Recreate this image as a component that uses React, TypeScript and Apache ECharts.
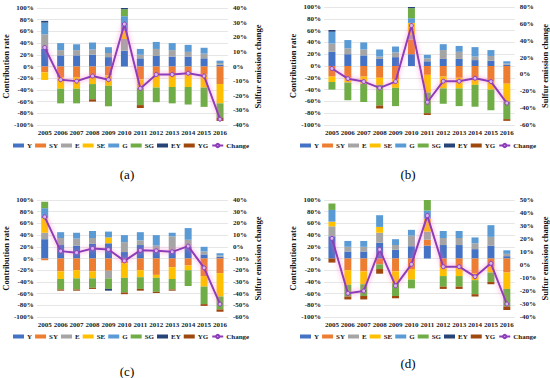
import React, { useEffect, useRef } from "react";
import * as echarts from "echarts";

const years = ["2005","2006","2007","2008","2009","2010","2011","2012","2013","2014","2015","2016"];
const factorNames = ["Y","SY","E","SE","G","SG","EY","YG"];
const factorColors = ["#4472C4","#ED7D31","#A5A5A5","#FFC000","#5B9BD5","#70AD47","#264478","#9E480E"];

// Panel (a)
const aY  = [30,19,19,20,16,27,14,18,17,17,14,3];
const aSY = [-10,-18,-18,-16,-15,0,-22,-14,-13,-12,-14,-30];
const aE  = [25,9,9,9,7,20,6,12,11,8,8,3];
const aSE = [-13,-20,-20,-14,-18,14,-14,-22,-22,-23,-22,-33];
const aG  = [20,12,10,12,10,25,10,12,12,12,10,4];
const aSG = [0,-25,-25,-26,-35,12,-30,-25,-28,-30,-33,-25];
const aEY = [3,0,0,0,0,2,0,0,0,0,0,0];
const aYG = [0,0,0,-4,0,0,-5,0,0,0,0,-5];
const aChange = [13,-9,-10,-6.5,-9,29,-15,-5.5,-5.5,-4.6,-6.5,-36];

// Panel (b)
const bY  = [24,20,18,12,15,20,8,12,12,10,9,2];
const bSY = [-18,-20,-18,-20,-22,25,-15,-18,-20,-20,-26,-30];
const bE  = [14,10,10,4,8,8,5,15,12,6,8,2];
const bSE = [-9,-8,-12,-12,-15,20,-30,-20,-18,-12,-14,-30];
const bG  = [20,14,12,12,10,8,6,10,10,16,10,4];
const bSG = [-13,-30,-31,-35,-31,17,-35,-26,-30,-37,-35,-30];
const bEY = [3,0,0,0,0,2,0,0,0,0,0,0];
const bYG = [0,0,0,-5,0,0,-3,0,0,0,0,-3];
const bChange = [7,-5,-8.5,-16,-8.5,58,-33,-8,-8,-4.5,-8.5,-34];

// Panel (c)
const cY  = [33,23,22,25,26,11,23,14,14,20,7,3];
const cSY = [-3,-22,-20,-22,-21,-8,-20,-28,-15,-12,-30,-25];
const cE  = [11,12,12,10,-13,17,8,8,24,12,5,2];
const cSE = [25,-13,-14,-12,10,-25,-12,-5,-20,-8,-18,-40];
const cG  = [17,10,10,12,10,12,14,18,6,20,8,4];
const cSG = [11,-18,-19,-16,-18,-25,-20,-24,-18,-27,-30,-22];
const cEY = [0,0,0,0,-3,0,0,0,0,0,0,0];
const cYG = [0,-2,-2,-2,0,-3,-3,-2,-2,0,-3,-4];
const cChange = [25.6,-3.7,-5,-1.4,-2.3,-12,-3,-3.4,-4.3,0.6,-18,-49];

// Panel (d)
const dY  = [38,12,12,27,15,21,22,23,23,16,22,4];
const dSY = [0,-20,-22,-10,-22,-18,10,-15,-16,-25,-14,-24];
const dE  = [17,8,8,17,8,18,14,12,12,10,15,4];
const dSE = [8,-25,-22,10,-20,-18,22,-15,-14,-12,-10,-28];
const dG  = [20,10,10,20,10,10,14,12,12,10,20,6];
const dSG = [11,-20,-20,-8,-22,-15,18,-18,-18,-24,-16,-30];
const dEY = [0,0,0,0,0,0,0,0,0,0,0,0];
const dYG = [-7,-5,-6,-8,-4,0,0,-4,-4,-4,-4,-6];
const dChange = [20.5,-21.8,-20,12,-16,0.5,38,-1.3,-1.3,-9,1.3,-30];

const leftTicks = { min: -100, max: 100, interval: 20 };
const rightTicks = [
  { min: -40, max: 40, interval: 10 },
  { min: -60, max: 80, interval: 20 },
  { min: -60, max: 40, interval: 10 },
  { min: -40, max: 50, interval: 10 },
];
const panelLabels = ["(a)", "(b)", "(c)", "(d)"];

const panelFactors = [
  [aY, aSY, aE, aSE, aG, aSG, aEY, aYG],
  [bY, bSY, bE, bSE, bG, bSG, bEY, bYG],
  [cY, cSY, cE, cSE, cG, cSG, cEY, cYG],
  [dY, dSY, dE, dSE, dG, dSG, dEY, dYG],
];
const panelChange = [aChange, bChange, cChange, dChange];

const SERIF = "'Liberation Serif', 'Times New Roman', serif";

export default function App() {
  const ref = useRef<HTMLDivElement>(null);
  useEffect(() => {
    document.body.style.margin = "0";
    if (!ref.current) return;
    const chart = echarts.init(ref.current, undefined, { renderer: "svg" });

    const grids = [
      { left: 35, top: 8, width: 193, height: 117 },
      { left: 324, top: 7, width: 192, height: 118 },
      { left: 36, top: 200, width: 192, height: 117 },
      { left: 324, top: 200, width: 191, height: 117 },
    ];
    const legendPos = [
      { left: 13, top: 142 },
      { left: 300, top: 142 },
      { left: 13, top: 333 },
      { left: 300, top: 333 },
    ];
    const titlePos = [
      { x: 127, y: 174 },
      { x: 408, y: 174 },
      { x: 127, y: 371 },
      { x: 408, y: 363 },
    ];

    const labelStyle = { fontFamily: SERIF, fontWeight: "bold" as const, fontSize: 7, color: "#222" };
    const nameStyle = { fontFamily: SERIF, fontWeight: "bold" as const, fontSize: 8.5, color: "#111" };

    const xAxis: any[] = [];
    const yAxis: any[] = [];
    const series: any[] = [];
    const legend: any[] = [];

    for (let p = 0; p < 4; p++) {
      xAxis.push({
        type: "category",
        gridIndex: p,
        data: years,
        axisLine: { show: false },
        axisTick: { show: false },
        axisLabel: { ...labelStyle, margin: 4, interval: 0 },
      });
      yAxis.push({
        type: "value",
        gridIndex: p,
        position: "left",
        ...leftTicks,
        name: "Contribution rate",
        nameLocation: "middle",
        nameRotate: 90,
        nameGap: 25,
        nameTextStyle: nameStyle,
        axisLine: { show: false },
        axisTick: { show: false },
        axisLabel: { ...labelStyle, margin: 3, formatter: "{value}%" },
        splitLine: { show: true, lineStyle: { color: "#E6E6E6", width: 1 } },
      });
      yAxis.push({
        type: "value",
        gridIndex: p,
        position: "right",
        ...rightTicks[p],
        name: "Sulfur emission change",
        nameLocation: "middle",
        nameRotate: 90,
        nameGap: 25,
        nameTextStyle: nameStyle,
        axisLine: { show: false },
        axisTick: { show: false },
        axisLabel: { ...labelStyle, margin: 5, formatter: "{value}%" },
        splitLine: { show: false },
      });
      factorNames.forEach((name, k) => {
        series.push({
          type: "bar",
          name,
          xAxisIndex: p,
          yAxisIndex: 2 * p,
          stack: "p" + p,
          barWidth: 7,
          data: panelFactors[p][k],
          itemStyle: { color: factorColors[k] },
        });
      });
      series.push({
        type: "line",
        name: "Change",
        xAxisIndex: p,
        yAxisIndex: 2 * p + 1,
        data: panelChange[p],
        z: 10,
        symbol: "circle",
        symbolSize: 4,
        lineStyle: {
          color: "#8E3DB8",
          width: 2,
          shadowColor: "rgba(255,110,200,0.8)",
          shadowBlur: 5,
        },
        itemStyle: { color: "#D7B6EE", borderColor: "#8E3DB8", borderWidth: 1 },
      });
      legend.push({
        ...legendPos[p],
        width: 250,
        orient: "horizontal",
        padding: 0,
        itemWidth: 11,
        itemHeight: 4,
        itemGap: 3,
        data: [
          ...factorNames.map((n) => ({ name: n, icon: "rect" })),
          { name: "Change" },
        ],
        textStyle: { ...labelStyle, width: 10, overflow: "none", padding: [0, 0, 0, -2] },
      });
    }

    chart.setOption({
      animation: false,
      backgroundColor: "#fff",
      grid: grids,
      xAxis,
      yAxis,
      legend,
      series,
      graphic: titlePos.map((t, i) => ({
        type: "text",
        x: t.x,
        y: t.y,
        style: {
          text: panelLabels[i],
          font: "13px " + SERIF,
          fill: "#000",
          align: "center",
          verticalAlign: "middle",
        },
      })),
    });
    return () => chart.dispose();
  }, []);
  return <div ref={ref} style={{ width: 550, height: 378 }} />;
}
